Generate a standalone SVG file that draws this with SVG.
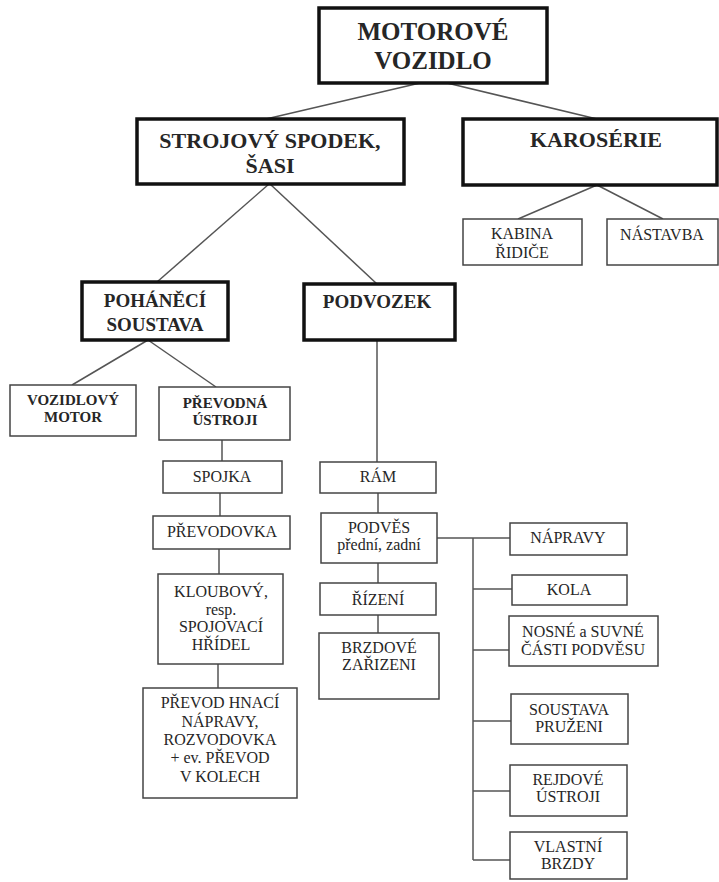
<svg xmlns="http://www.w3.org/2000/svg" width="719" height="882" viewBox="0 0 719 882">
  <style>
    .main { fill: #fff; stroke: #111; stroke-width: 3.5; }
    .box { fill: #fff; stroke: #444; stroke-width: 1.5; }
    .t { font-family: "Liberation Serif", "Times New Roman", "DejaVu Serif", serif; fill: #262626; text-anchor: middle; }
    .h1 { font-size: 25px; font-weight: bold; }
    .h2 { font-size: 22px; font-weight: bold; }
    .h3 { font-size: 19px; font-weight: bold; }
    .h4 { font-size: 15px; font-weight: bold; }
    .r { font-size: 16px; }
    .link { stroke: #555; stroke-width: 1.5; fill: none; }
  </style>
  <rect width="719" height="882" fill="#fff"/>

  <g id="connectors" class="link">
    <line x1="420" y1="83" x2="266" y2="119"/>
    <line x1="447" y1="83" x2="597" y2="119"/>
    <line x1="597" y1="185" x2="518" y2="219"/>
    <line x1="597" y1="185" x2="663" y2="219"/>
    <line x1="269" y1="184" x2="157" y2="282"/>
    <line x1="270" y1="184" x2="377" y2="284"/>
    <line x1="148" y1="340" x2="72" y2="385"/>
    <line x1="148" y1="340" x2="216" y2="387"/>
    <line x1="377" y1="340" x2="377" y2="462"/>
    <line x1="222" y1="440" x2="222" y2="461"/>
    <line x1="220" y1="493" x2="220" y2="516"/>
    <line x1="219" y1="549" x2="219" y2="574"/>
    <line x1="218" y1="664" x2="218" y2="688"/>
    <line x1="378" y1="493" x2="378" y2="513"/>
    <line x1="378" y1="563" x2="378" y2="583"/>
    <line x1="378" y1="615" x2="378" y2="633"/>
    <line x1="437" y1="538" x2="510" y2="538"/>
    <line x1="473" y1="538" x2="473" y2="860"/>
    <line x1="473" y1="589" x2="512" y2="589"/>
    <line x1="473" y1="650" x2="509" y2="650"/>
    <line x1="473" y1="721" x2="511" y2="721"/>
    <line x1="473" y1="791" x2="510" y2="791"/>
    <line x1="473" y1="860" x2="510" y2="860"/>
  </g>

  <g id="motorove-vozidlo">
    <rect class="main" x="319" y="8" width="228" height="75"/>
    <text class="t h1" x="433" y="40">MOTOROVÉ</text>
    <text class="t h1" x="433" y="69">VOZIDLO</text>
  </g>

  <g id="strojovy-spodek">
    <rect class="main" x="137" y="119" width="267" height="65"/>
    <text class="t h2" x="270" y="148">STROJOVÝ SPODEK,</text>
    <text class="t h2" x="270" y="173">ŠASI</text>
  </g>

  <g id="karoserie">
    <rect class="main" x="463" y="119" width="254" height="66"/>
    <text class="t h2" x="596" y="147">KAROSÉRIE</text>
  </g>

  <g id="kabina-ridice">
    <rect class="box" x="463" y="219" width="119" height="46"/>
    <text class="t r" x="522" y="239">KABINA</text>
    <text class="t r" x="522" y="258">ŘIDIČE</text>
  </g>

  <g id="nastavba">
    <rect class="box" x="607" y="219" width="111" height="46"/>
    <text class="t r" x="662" y="240">NÁSTAVBA</text>
  </g>

  <g id="pohaneci-soustava">
    <rect class="main" x="82" y="282" width="146" height="58"/>
    <text class="t h3" x="155" y="307">POHÁNĚCÍ</text>
    <text class="t h3" x="155" y="331">SOUSTAVA</text>
  </g>

  <g id="podvozek">
    <rect class="main" x="304" y="284" width="151" height="56"/>
    <text class="t h3" x="377" y="308">PODVOZEK</text>
  </g>

  <g id="vozidlovy-motor">
    <rect class="box" x="10" y="385" width="126" height="51"/>
    <text class="t h4" x="73" y="405">VOZIDLOVÝ</text>
    <text class="t h4" x="73" y="422">MOTOR</text>
  </g>

  <g id="prevodna-ustroji">
    <rect class="box" x="159" y="387" width="131" height="53"/>
    <text class="t h4" x="225" y="408">PŘEVODNÁ</text>
    <text class="t h4" x="225" y="425">ÚSTROJI</text>
  </g>

  <g id="spojka">
    <rect class="box" x="163" y="461" width="119" height="32"/>
    <text class="t r" x="222" y="482">SPOJKA</text>
  </g>

  <g id="prevodovka">
    <rect class="box" x="153" y="516" width="137" height="33"/>
    <text class="t r" x="222" y="537">PŘEVODOVKA</text>
  </g>

  <g id="kloubovy-hridel">
    <rect class="box" x="158" y="574" width="125" height="90"/>
    <text class="t r" x="221" y="597">KLOUBOVÝ,</text>
    <text class="t r" x="221" y="615">resp.</text>
    <text class="t r" x="221" y="632">SPOJOVACÍ</text>
    <text class="t r" x="221" y="650">HŘÍDEL</text>
  </g>

  <g id="prevod-hnaci-napravy">
    <rect class="box" x="143" y="688" width="154" height="110"/>
    <text class="t r" x="220" y="708">PŘEVOD HNACÍ</text>
    <text class="t r" x="220" y="727">NÁPRAVY,</text>
    <text class="t r" x="220" y="745">ROZVODOVKA</text>
    <text class="t r" x="220" y="763">+ ev. PŘEVOD</text>
    <text class="t r" x="220" y="782">V KOLECH</text>
  </g>

  <g id="ram">
    <rect class="box" x="320" y="462" width="116" height="31"/>
    <text class="t r" x="378" y="482">RÁM</text>
  </g>

  <g id="podves">
    <rect class="box" x="321" y="513" width="116" height="50"/>
    <text class="t r" x="379" y="533">PODVĚS</text>
    <text class="t r" x="379" y="550">přední, zadní</text>
  </g>

  <g id="rizeni">
    <rect class="box" x="320" y="583" width="116" height="32"/>
    <text class="t r" x="378" y="605">ŘÍZENÍ</text>
  </g>

  <g id="brzdove-zarizeni">
    <rect class="box" x="319" y="633" width="120" height="66"/>
    <text class="t r" x="379" y="653">BRZDOVÉ</text>
    <text class="t r" x="379" y="670">ZAŘIZENI</text>
  </g>

  <g id="napravy">
    <rect class="box" x="510" y="523" width="117" height="32"/>
    <text class="t r" x="568" y="543">NÁPRAVY</text>
  </g>

  <g id="kola">
    <rect class="box" x="512" y="575" width="115" height="30"/>
    <text class="t r" x="569" y="595">KOLA</text>
  </g>

  <g id="nosne-suvne-casti">
    <rect class="box" x="509" y="616" width="149" height="50"/>
    <text class="t r" x="583" y="637">NOSNÉ a SUVNÉ</text>
    <text class="t r" x="583" y="655">ČÁSTI PODVĚSU</text>
  </g>

  <g id="soustava-pruzeni">
    <rect class="box" x="511" y="694" width="117" height="50"/>
    <text class="t r" x="569" y="715">SOUSTAVA</text>
    <text class="t r" x="569" y="732">PRUŽENI</text>
  </g>

  <g id="rejdove-ustroji">
    <rect class="box" x="510" y="765" width="117" height="51"/>
    <text class="t r" x="568" y="785">REJDOVÉ</text>
    <text class="t r" x="568" y="802">ÚSTROJI</text>
  </g>

  <g id="vlastni-brzdy">
    <rect class="box" x="510" y="832" width="117" height="47"/>
    <text class="t r" x="568" y="852">VLASTNÍ</text>
    <text class="t r" x="568" y="869">BRZDY</text>
  </g>
</svg>
